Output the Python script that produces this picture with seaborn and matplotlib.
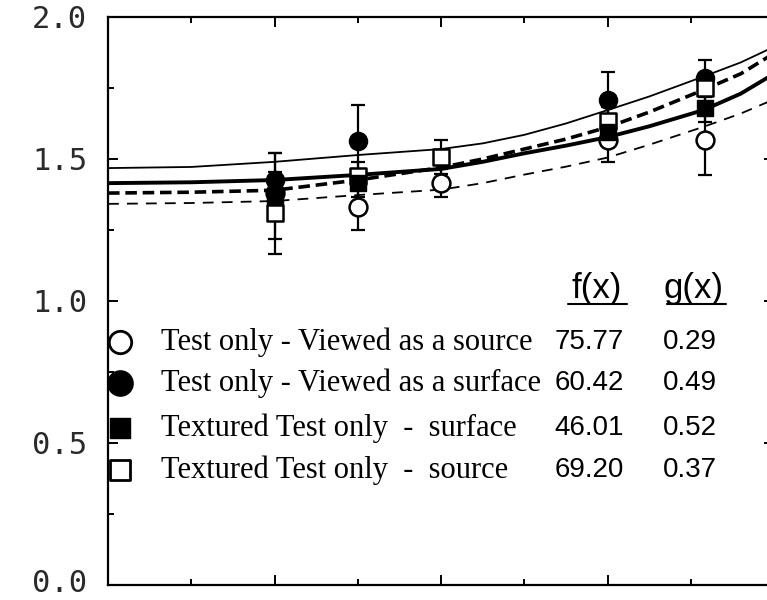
import numpy as np
import pandas as pd
import matplotlib
matplotlib.use("Agg")
import matplotlib.pyplot as plt
import matplotlib.transforms as mtransforms
import seaborn as sns

# ---------------- data ----------------
x_points = [2, 3, 4, 6, 7.17]

src_mean = [1.38, 1.33, 1.415, 1.567, 1.567]          # open circle
src_err = [0.0, 0.08, 0.05, 0.077, 0.123]
surf_mean = [1.425, 1.563, np.nan, 1.708, 1.785]      # filled circle
surf_err = [0.095, 0.127, 0.0, 0.098, 0.065]
tex_surf_mean = [1.37, 1.415, np.nan, 1.595, 1.68]    # filled square
tex_surf_err = [0.15, 0.05, 0.0, 0.05, 0.05]
tex_src_mean = [1.31, 1.44, 1.507, 1.634, 1.75]       # open square
tex_src_err = [0.145, 0.05, 0.06, 0.05, 0.05]

curve_x = [0, 1, 2, 3, 4, 4.5, 5, 5.5, 6, 6.5, 7.15, 7.6, 8]
thin_solid = [1.468, 1.472, 1.49, 1.514, 1.535, 1.555, 1.585, 1.625, 1.672,
              1.72, 1.79, 1.84, 1.895]
thick_solid = [1.415, 1.418, 1.426, 1.444, 1.465, 1.49, 1.52, 1.547, 1.577,
               1.615, 1.672, 1.73, 1.80]
thick_dashed = [1.38, 1.383, 1.39, 1.426, 1.47, 1.50, 1.535, 1.57, 1.612,
                1.665, 1.743, 1.80, 1.872]
thin_dashed = [1.342, 1.345, 1.352, 1.373, 1.392, 1.415, 1.445, 1.473, 1.505,
               1.55, 1.613, 1.66, 1.71]

legend_labels = ["Test only - Viewed as a source",
                 "Test only - Viewed as a surface",
                 "Textured Test only  -  surface",
                 "Textured Test only  -  source"]
f_values = ["75.77", "60.42", "46.01", "69.20"]
g_values = ["0.29", "0.49", "0.52", "0.37"]
y_ticks = [0.0, 0.5, 1.0, 1.5, 2.0]

# ---------------- figure ----------------
sns.set_theme(style="ticks")
plt.rcParams["font.family"] = ["DejaVu Sans"]

fig = plt.figure(figsize=(7.67, 6.0), dpi=100)
W, H = 767.0, 600.0
ax = fig.add_axes([108 / W, 15 / H, (774 - 108) / W, (585 - 17) / H])
ax.set_facecolor("white")
fig.patch.set_facecolor("white")

# fitted curves
sns.lineplot(x=curve_x, y=thin_solid, ax=ax, color="black", lw=1.3, zorder=3)
sns.lineplot(x=curve_x, y=thick_solid, ax=ax, color="black", lw=2.8, zorder=3)
sns.lineplot(x=curve_x, y=thick_dashed, ax=ax, color="black", lw=2.6,
             linestyle=(0, (3.2, 1.6)), zorder=3)
sns.lineplot(x=curve_x, y=thin_dashed, ax=ax, color="black", lw=1.3,
             linestyle=(0, (6, 4.5)), zorder=3)

# error bars
for m, e in [(src_mean, src_err), (surf_mean, surf_err),
             (tex_surf_mean, tex_surf_err), (tex_src_mean, tex_src_err)]:
    ax.errorbar(x_points, m, yerr=e, fmt="none", ecolor="black",
                elinewidth=1.6, capsize=5, capthick=1.6, zorder=2)

# markers
sns.scatterplot(x=x_points, y=src_mean, ax=ax, marker="o", s=165,
                color="white", edgecolor="black", linewidth=1.8, zorder=4)
sns.scatterplot(x=x_points, y=surf_mean, ax=ax, marker="o", s=170,
                color="black", edgecolor="black", linewidth=1.0, zorder=5)
sns.scatterplot(x=x_points, y=tex_src_mean, ax=ax, marker="s", s=140,
                color="white", edgecolor="black", linewidth=1.8, zorder=6)
sns.scatterplot(x=x_points, y=tex_surf_mean, ax=ax, marker="s", s=125,
                color="black", edgecolor="black", linewidth=1.0, zorder=7)

# axes styling
ax.set_xlim(0, 8)
ax.set_ylim(0, 2.0)
ax.set_xticks([2, 4, 6])
ax.set_xticks([1, 3, 5, 7], minor=True)
ax.set_xticklabels([])
ax.set_yticks(y_ticks)
ax.set_yticks([0.25, 0.75, 1.25, 1.75], minor=True)
ax.set_yticklabels([f"{v:.1f}" for v in y_ticks],
                   fontfamily="DejaVu Sans Mono", fontsize=22, color="#2a2a2a")
ax.tick_params(which="both", direction="in", top=True, right=True,
               color="black", width=1.4)
ax.tick_params(which="major", length=7, pad=15)
ax.tick_params(which="minor", length=4)
for s in ax.spines.values():
    s.set_visible(True)
    s.set_color("black")
    s.set_linewidth(1.6)
ax.set_xlabel("")
ax.set_ylabel("")
ax.grid(False)

# keep the bottom tick label inside the canvas
bottom_label = ax.get_yticklabels()[0]
bottom_label.set_transform(bottom_label.get_transform() +
                           mtransforms.ScaledTranslation(0, 4 / 100, fig.dpi_scale_trans))

# legend table
row_y = [0.856, 0.711, 0.553, 0.405]
styles = [dict(marker="o", s=260, color="white", edgecolor="black", linewidth=2.0),
          dict(marker="o", s=330, color="black", edgecolor="black", linewidth=1.0),
          dict(marker="s", s=210, color="black", edgecolor="black", linewidth=1.0),
          dict(marker="s", s=210, color="white", edgecolor="black", linewidth=2.0)]
for yy, lab, fv, gv, st in zip(row_y, legend_labels, f_values, g_values, styles):
    ax.scatter([0.144], [yy], zorder=8, clip_on=False, **st)
    ax.text(0.64, yy, lab, fontfamily="Liberation Serif", fontsize=22,
            ha="left", va="center", color="black")
    ax.text(5.78, yy, fv, fontfamily="Liberation Sans", fontsize=20,
            ha="center", va="center", color="black")
    ax.text(6.99, yy, gv, fontfamily="Liberation Sans", fontsize=20,
            ha="center", va="center", color="black")

ax.text(5.87, 1.045, "f(x)", fontfamily="Liberation Sans", fontsize=25,
        ha="center", va="center", color="black")
ax.text(7.03, 1.045, "g(x)", fontfamily="Liberation Sans", fontsize=25,
        ha="center", va="center", color="black")
ax.plot([5.52, 6.24], [0.99, 0.99], color="black", lw=1.5)
ax.plot([6.72, 7.42], [0.99, 0.99], color="black", lw=1.5)

fig.savefig("out.png", dpi=100, facecolor="white")
